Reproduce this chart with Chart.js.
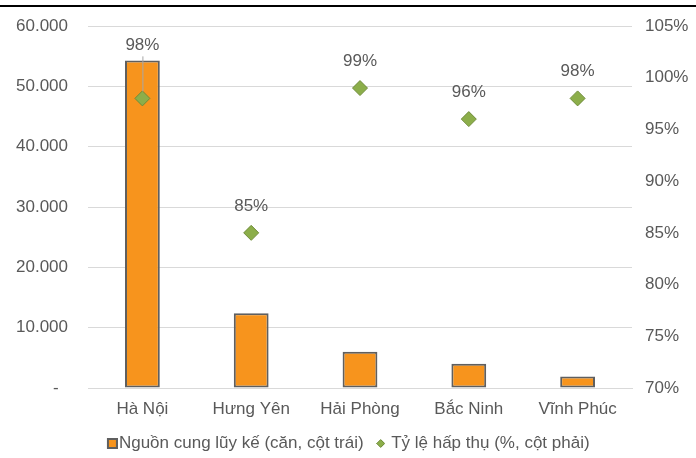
<!DOCTYPE html>
<html lang="vi">
<head>
<meta charset="utf-8">
<script src="https://cdn.jsdelivr.net/npm/chart.js@4.4.1/dist/chart.umd.min.js"></script>
<style>
  html, body { margin: 0; padding: 0; background: #ffffff; }
  #wrap { width: 696px; height: 458px; position: relative; }
</style>
</head>
<body>
<div id="wrap"><canvas id="c" width="696" height="458"></canvas></div>
<script>
// Provinces and their figures
const provinces = ['Hà Nội', 'Hưng Yên', 'Hải Phòng', 'Bắc Ninh', 'Vĩnh Phúc'];
const cumulativeSupply = [54300, 12400, 6000, 4000, 1900];   // units (left axis)
const absorptionRate = [98, 85, 99, 96, 98];                  // percent (right axis)
const supplyTicks = [0, 10000, 20000, 30000, 40000, 50000, 60000];
const rateTicks = [70, 75, 80, 85, 90, 95, 100, 105];
const seriesNames = ['Nguồn cung lũy kế (căn, cột trái)', 'Tỷ lệ hấp thụ (%, cột phải)'];

const ORANGE = '#F7941D';
const BAR_EDGE = '#5F5F5F';
const GREEN = '#8CAE4A';
const GREEN_EDGE = '#6F8C3A';
const TEXT = '#595959';
const GRID = '#D9D9D9';
const FONT = '"Liberation Sans", Arial, sans-serif';
const FS = 17;

// small marker images for the legend
function squareMarker() {
  const c = document.createElement('canvas');
  c.width = 19; c.height = 11;
  const x = c.getContext('2d');
  x.fillStyle = BAR_EDGE; x.fillRect(8, 0, 11, 11);
  x.fillStyle = ORANGE; x.fillRect(10, 2, 7, 7);
  return c;
}
function diamondMarker() {
  const c = document.createElement('canvas');
  c.width = 9; c.height = 9;
  const x = c.getContext('2d');
  x.beginPath();
  x.moveTo(4.5, 0.5); x.lineTo(8.5, 4.5); x.lineTo(4.5, 8.5); x.lineTo(0.5, 4.5); x.closePath();
  x.fillStyle = GREEN; x.fill();
  x.strokeStyle = GREEN_EDGE; x.lineWidth = 1; x.stroke();
  return c;
}
const legendMarkers = [squareMarker(), diamondMarker()];

function formatThousands(v) {
  if (v === 0) return '-  ';
  return String(v).replace(/\B(?=(\d{3})+(?!\d))/g, '.');
}

// Header rule across the top of the figure
const headerRule = {
  id: 'headerRule',
  afterDraw(chart) {
    const ctx = chart.ctx;
    ctx.save();
    ctx.strokeStyle = '#000000';
    ctx.lineWidth = 2;
    ctx.beginPath();
    ctx.moveTo(0, 6); ctx.lineTo(chart.width, 6);
    ctx.stroke();
    ctx.restore();
  }
};

// Percentage labels above the absorption markers
const rateLabels = {
  id: 'rateLabels',
  afterDatasetsDraw(chart) {
    const ctx = chart.ctx;
    const meta = chart.getDatasetMeta(1);
    const barMeta = chart.getDatasetMeta(0);
    ctx.save();
    ctx.font = FS + 'px ' + FONT;
    ctx.fillStyle = TEXT;
    ctx.textAlign = 'center';
    ctx.textBaseline = 'middle';
    meta.data.forEach((pt, i) => {
      const label = absorptionRate[i] + '%';
      let ly = pt.y - 27;
      const bar = barMeta.data[i];
      if (bar && ly > bar.y - 6) {
        // label would sit on the column: lift it above and draw a leader line
        ly = bar.y - 15;
        ctx.strokeStyle = '#A6A6A6';
        ctx.lineWidth = 1;
        ctx.beginPath();
        ctx.moveTo(pt.x + 0.5, ly + 11);
        ctx.lineTo(pt.x + 0.5, pt.y - 7);
        ctx.stroke();
      }
      ctx.fillText(label, pt.x, ly);
    });
    ctx.restore();
  }
};

// vertical axes: fixed widths, no extra overhang padding
function fixedVertical(width) {
  return function (scale) {
    scale.width = width;
    scale.paddingTop = 0;
    scale.paddingBottom = 0;
  };
}

new Chart(document.getElementById('c'), {
  data: {
    labels: provinces,
    datasets: [
      {
        type: 'bar',
        label: seriesNames[0],
        data: cumulativeSupply,
        yAxisID: 'y',
        backgroundColor: ORANGE,
        borderColor: BAR_EDGE,
        borderWidth: 2,
        borderSkipped: false,
        barPercentage: 0.32,
        categoryPercentage: 1.0,
        order: 2
      },
      {
        type: 'line',
        label: seriesNames[1],
        data: absorptionRate,
        yAxisID: 'y1',
        showLine: false,
        pointStyle: 'rectRot',
        pointRadius: 7.5,
        pointHoverRadius: 7.5,
        pointBackgroundColor: GREEN,
        pointBorderColor: GREEN_EDGE,
        pointBorderWidth: 1,
        order: 1
      }
    ]
  },
  options: {
    responsive: false,
    animation: false,
    devicePixelRatio: 1,
    layout: { padding: { top: 26, left: 0, right: 0, bottom: 0 } },
    plugins: {
      tooltip: { enabled: false },
      legend: {
        position: 'bottom',
        maxHeight: 38,
        labels: {
          font: { family: FONT, size: FS, lineHeight: 0.8 },
          color: TEXT,
          usePointStyle: true,
          boxWidth: 4,
          boxHeight: 10,
          padding: 15,
          generateLabels(chart) {
            return chart.data.datasets.map((ds, i) => ({
              text: ds.label,
              pointStyle: legendMarkers[i],
              fillStyle: 'transparent',
              strokeStyle: 'transparent',
              lineWidth: 0,
              fontColor: TEXT,
              datasetIndex: i,
              hidden: false
            }));
          }
        }
      }
    },
    scales: {
      x: {
        afterFit(scale) { scale.height = 32; },
        grid: { display: false, drawTicks: false },
        border: { display: true, color: GRID, width: 1 },
        ticks: { font: { family: FONT, size: FS }, color: TEXT, padding: 11 }
      },
      y: {
        position: 'left',
        min: 0, max: 60000,
        afterBuildTicks(scale) { scale.ticks = supplyTicks.map(v => ({ value: v })); },
        afterFit: fixedVertical(88),
        grid: { color: GRID, lineWidth: 1, drawTicks: false },
        border: { display: false },
        ticks: {
          font: { family: FONT, size: FS },
          color: TEXT,
          padding: 20,
          callback: v => formatThousands(v)
        }
      },
      y1: {
        position: 'right',
        min: 70, max: 105,
        afterBuildTicks(scale) { scale.ticks = rateTicks.map(v => ({ value: v })); },
        afterFit: fixedVertical(64),
        grid: { display: false, drawTicks: false },
        border: { display: false },
        ticks: {
          font: { family: FONT, size: FS },
          color: TEXT,
          padding: 13,
          callback: v => v + '%'
        }
      }
    }
  },
  plugins: [headerRule, rateLabels]
});
</script>
</body>
</html>
